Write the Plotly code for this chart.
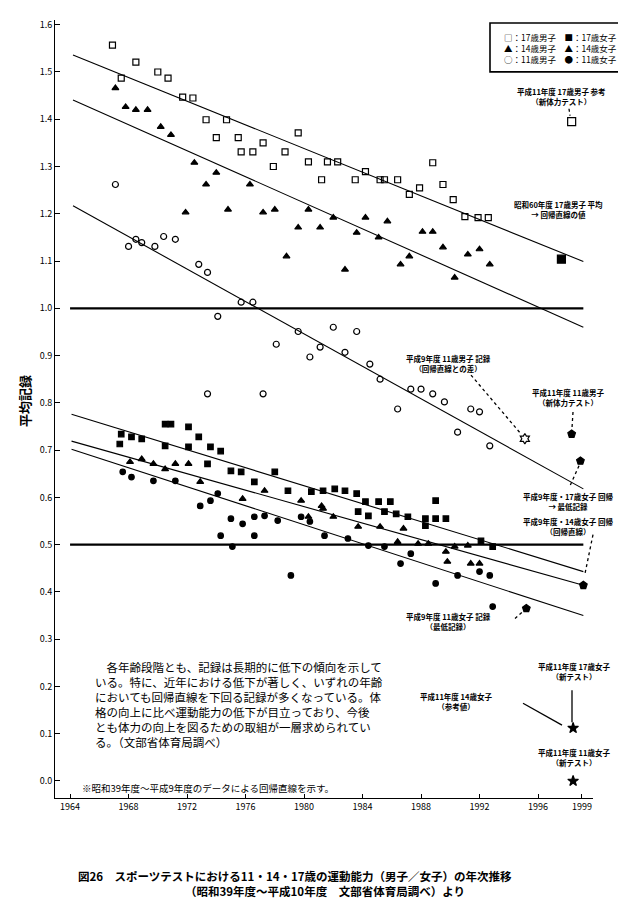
import plotly.graph_objects as go

FONT = "Noto Sans CJK JP"

# ---------------- data ----------------
x_tick_years = [1964, 1968, 1972, 1976, 1980, 1984, 1988, 1992, 1996, 1999]
x_tick_labels = ["1964", "1968", "1972", "1976", "1980", "1984", "1988", "1992", "1996", "1999"]
y_tick_vals = [0.0, 0.1, 0.2, 0.3, 0.4, 0.5, 0.6, 0.7, 0.8, 0.9, 1.0, 1.1, 1.2, 1.3, 1.4, 1.5, 1.6]
y_tick_labels = ["0.0", "0.1", "0.2", "0.3", "0.4", "0.5", "0.6", "0.7", "0.8", "0.9",
                 "1.0", "1.1", "1.2", "1.3", "1.4", "1.5", "1.6"]

# upper group, 17 years boys (open squares)
up17_years = [1966.9, 1967.5, 1968.5, 1970.0, 1970.7, 1971.7, 1972.4, 1973.3, 1974.7, 1974.0,
              1975.5, 1975.7, 1976.5, 1977.2, 1977.9, 1978.7, 1979.6, 1980.3, 1981.2, 1981.6,
              1982.3, 1983.5, 1984.2, 1985.2, 1985.5, 1986.4, 1987.2, 1987.9, 1988.8, 1989.5,
              1990.2, 1991.0, 1991.9, 1992.6]
up17_vals = [1.557, 1.487, 1.521, 1.500, 1.487, 1.447, 1.445, 1.399, 1.399, 1.361,
             1.361, 1.331, 1.331, 1.350, 1.300, 1.331, 1.371, 1.310, 1.272, 1.310,
             1.310, 1.272, 1.289, 1.272, 1.272, 1.272, 1.241, 1.255, 1.308, 1.262,
             1.230, 1.194, 1.192, 1.192]

# upper group, 14 years boys (triangles)
up14_years = [1967.1, 1967.8, 1968.5, 1969.3, 1970.2, 1970.9, 1972.5, 1974.0, 1973.3, 1976.3,
              1974.8, 1977.2, 1978.0, 1980.3, 1979.6, 1981.1, 1982.0, 1983.6, 1984.2, 1985.7,
              1985.1, 1986.6, 1987.2, 1988.1, 1988.8, 1989.5, 1991.2, 1992.0, 1992.7, 1990.3,
              1982.8, 1978.8, 1971.9]
up14_vals = [1.466, 1.426, 1.420, 1.420, 1.384, 1.367, 1.308, 1.287, 1.262, 1.262,
             1.209, 1.203, 1.209, 1.209, 1.171, 1.171, 1.192, 1.160, 1.192, 1.184,
             1.150, 1.093, 1.110, 1.162, 1.162, 1.129, 1.114, 1.125, 1.093, 1.065,
             1.082, 1.110, 1.203]

# upper group, 11 years boys (open circles)
up11_years = [1967.1, 1968.0, 1968.5, 1968.9, 1969.8, 1970.4, 1971.2, 1972.8, 1973.4, 1975.7,
              1976.5, 1974.1, 1978.1, 1979.6, 1980.4, 1982.0, 1983.6, 1981.1, 1982.8, 1984.5,
              1985.2, 1987.3, 1988.0, 1988.8, 1989.6, 1986.4, 1991.4, 1992.0, 1990.5, 1992.7,
              1973.4, 1977.2]
up11_vals = [1.262, 1.131, 1.146, 1.139, 1.131, 1.152, 1.146, 1.093, 1.076, 1.013,
             1.013, 0.983, 0.924, 0.951, 0.897, 0.960, 0.951, 0.918, 0.907, 0.882,
             0.850, 0.829, 0.829, 0.819, 0.802, 0.787, 0.787, 0.781, 0.738, 0.709,
             0.819, 0.819]

# lower group, 17 years girls (filled squares)
lo17_years = [1967.5, 1968.2, 1968.9, 1967.4, 1970.5, 1970.9, 1972.1, 1972.8, 1970.5, 1972.1,
              1973.6, 1974.3, 1973.4, 1975.0, 1975.7, 1976.6, 1978.0, 1978.9, 1980.5, 1981.3,
              1982.1, 1982.8, 1983.6, 1984.2, 1985.1, 1985.9, 1983.7, 1984.4, 1985.5, 1986.3,
              1987.1, 1988.3, 1989.0, 1989.0, 1989.7, 1988.3, 1992.1, 1992.9]
lo17_vals = [0.734, 0.728, 0.724, 0.713, 0.755, 0.755, 0.749, 0.728, 0.709, 0.707,
             0.707, 0.698, 0.671, 0.656, 0.654, 0.633, 0.654, 0.614, 0.612, 0.614,
             0.618, 0.614, 0.608, 0.591, 0.591, 0.591, 0.570, 0.561, 0.570, 0.565,
             0.559, 0.555, 0.593, 0.555, 0.555, 0.540, 0.508, 0.496]

# lower group, 14 years girls (filled triangles)
lo14_years = [1968.1, 1968.9, 1969.7, 1971.2, 1972.1, 1970.5, 1972.9, 1975.8, 1977.3, 1979.8,
              1981.3, 1981.2, 1980.3, 1982.0, 1983.7, 1985.2, 1986.8, 1986.4, 1987.8, 1988.5,
              1990.3, 1991.2, 1989.7, 1989.8, 1991.4, 1992.0]
lo14_vals = [0.675, 0.681, 0.671, 0.671, 0.671, 0.660, 0.633, 0.597, 0.614, 0.593,
             0.576, 0.582, 0.559, 0.559, 0.538, 0.538, 0.534, 0.506, 0.502, 0.502,
             0.496, 0.498, 0.485, 0.464, 0.460, 0.460]

# lower group, 11 years girls (filled circles)
lo11_years = [1967.6, 1968.2, 1969.7, 1971.2, 1974.1, 1972.9, 1973.6, 1976.6, 1977.3, 1978.2,
              1979.8, 1980.4, 1975.0, 1975.8, 1974.3, 1976.6, 1975.1, 1981.4, 1979.1, 1983.0,
              1984.4, 1985.5, 1986.6, 1987.3, 1990.5, 1992.0, 1992.7, 1989.0, 1992.9]
lo11_vals = [0.654, 0.643, 0.635, 0.635, 0.608, 0.582, 0.593, 0.559, 0.561, 0.551,
             0.559, 0.549, 0.555, 0.544, 0.519, 0.519, 0.496, 0.519, 0.435, 0.513,
             0.498, 0.496, 0.460, 0.481, 0.435, 0.443, 0.435, 0.418, 0.369]

# regression lines (start / end)
fit_years = [1964.2, 1999.1]
fit_up17_vals = [1.536, 1.099]
fit_up14_vals = [1.441, 0.960]
fit_up11_vals = [1.217, 0.618]
fit_lo_years = [1964.1, 1999.1]
fit_lo17_vals = [0.776, 0.443]
fit_lo14_vals = [0.719, 0.414]
fit_lo11_vals = [0.702, 0.350]

# reference (base) lines
base_years = [1964.0, 1999.1]
base_upper_vals = [1.0, 1.0]
base_lower_vals = [0.5, 0.5]

# individually annotated records
special_years = [1998.3, 1997.6, 1995.1, 1998.3, 1998.9, 1999.1, 1995.2, 1998.4, 1998.4]
special_vals = [1.395, 1.104, 0.724, 0.734, 0.677, 0.414, 0.365, 0.112, 0.0]
special_symbols = ["square-open", "square", "hexagram-open", "pentagon", "pentagon",
                   "pentagon", "pentagon", "star", "star"]

# ---------------- figure ----------------
L, R, T, B = 47, 41, 10, 110
W, H = 626, 900
PW, PH = W - L - R, H - T - B


def px(xp, yp):
    return (xp - L) / PW, (H - B - yp) / PH


fig = go.Figure()

line_style = dict(color="black", width=1.1)
for yrs, vals in [(fit_years, fit_up17_vals), (fit_years, fit_up14_vals), (fit_years, fit_up11_vals),
                  (fit_lo_years, fit_lo17_vals), (fit_lo_years, fit_lo14_vals), (fit_lo_years, fit_lo11_vals)]:
    fig.add_trace(go.Scatter(x=yrs, y=vals, mode="lines", line=line_style,
                             showlegend=False, hoverinfo="skip"))
for vals in [base_upper_vals, base_lower_vals]:
    fig.add_trace(go.Scatter(x=base_years, y=vals, mode="lines",
                             line=dict(color="black", width=2.2), showlegend=False, hoverinfo="skip"))

series = [
    (up17_years, up17_vals, "square-open", 6, "17歳男子"),
    (up14_years, up14_vals, "triangle-up", 6, "14歳男子"),
    (up11_years, up11_vals, "circle-open", 6, "11歳男子"),
    (lo17_years, lo17_vals, "square", 5.5, "17歳女子"),
    (lo14_years, lo14_vals, "triangle-up", 6, "14歳女子"),
    (lo11_years, lo11_vals, "circle", 5.5, "11歳女子"),
]
for yrs, vals, sym, size, name in series:
    fig.add_trace(go.Scatter(x=yrs, y=vals, mode="markers", name=name,
                             marker=dict(symbol=sym, size=size, color="black",
                                         line=dict(color="black", width=1.2)),
                             showlegend=False))

fig.add_trace(go.Scatter(x=special_years, y=special_vals, mode="markers",
                         marker=dict(symbol=special_symbols, size=8, color="black",
                                     line=dict(color="black", width=1.2)),
                         showlegend=False))

annotations = []
shapes = []

# legend box
x0, y0 = px(482, 13)
x1, y1 = px(622, 62)
shapes.append(dict(type="rect", xref="paper", yref="paper", x0=x0, y0=y1, x1=x1, y1=y0,
                   line=dict(color="black", width=1.6)))
lx, ly = px(552, 38)
annotations.append(dict(xref="paper", yref="paper", x=lx, y=ly, xanchor="center", yanchor="middle",
                        showarrow=False, align="left",
                        text="□：17歳男子　■：17歳女子<br>▲：14歳男子　▲：14歳女子<br>○：11歳男子　●：11歳女子",
                        font=dict(family=FONT, size=8.5, color="black")))

# small labels
small_labels = [
    (553, 87, "<b>平成11年度 17歳男子 参考</b><br><b>（新体力テスト）</b>"),
    (550, 200, "<b>昭和60年度 17歳男子 平均</b><br><b>→ 回帰直線の値</b>"),
    (440, 354, "<b>平成9年度 11歳男子 記録</b><br><b>（回帰直線との差）</b>"),
    (560, 388, "<b>平成11年度 11歳男子</b><br><b>（新体力テスト）</b>"),
    (560, 493, "<b>平成9年度・17歳女子 回帰</b><br><b>→ 最低記録</b>"),
    (560, 518, "<b>平成9年度・14歳女子 回帰</b><br><b>（回帰直線）</b>"),
    (440, 613, "<b>平成9年度 11歳女子 記録</b><br><b>（最低記録）</b>"),
    (566, 663, "<b>平成11年度 17歳女子</b><br><b>（新テスト）</b>"),
    (448, 693, "<b>平成11年度 14歳女子</b><br><b>（参考値）</b>"),
    (566, 749, "<b>平成11年度 11歳女子</b><br><b>（新テスト）</b>"),
]
for xp, yp, txt in small_labels:
    ax, ay = px(xp, yp)
    annotations.append(dict(xref="paper", yref="paper", x=ax, y=ay, xanchor="center", yanchor="middle",
                            showarrow=False, text=txt,
                            font=dict(family=FONT, size=7.5, color="black")))

leaders = [
    ((561, 99), (562, 106), "dot"),
    ((463, 366), (513, 425), "dot"),
    ((565, 403), (564, 419), "dot"),
    ((571, 457), (562, 477), "dot"),
    ((585, 526), (577, 565), "dot"),
    ((507, 610), (515, 603), "dot"),
    ((564, 682), (564, 714), "solid"),
    ((515, 695), (554, 717), "solid"),
]
for (xa, ya), (xb, yb), dash in leaders:
    ax0, ay0 = px(xa, ya)
    ax1, ay1 = px(xb, yb)
    shapes.append(dict(type="line", xref="paper", yref="paper", x0=ax0, y0=ay0, x1=ax1, y1=ay1,
                       line=dict(color="black", width=1.3, dash=dash)))

# paragraph
para = ("　各年齢段階とも、記録は長期的に低下の傾向を示して<br>"
        "いる。特に、近年における低下が著しく、いずれの年齢<br>"
        "においても回帰直線を下回る記録が多くなっている。体<br>"
        "格の向上に比べ運動能力の低下が目立っており、今後<br>"
        "とも体力の向上を図るための取組が一層求められてい<br>"
        "る。（文部省体育局調べ）")
pxx, pyy = px(85, 649)
annotations.append(dict(xref="paper", yref="paper", x=pxx, y=pyy, xanchor="left", yanchor="top",
                        showarrow=False, align="left", text=para,
                        font=dict(family=FONT, size=11.5, color="black")))

# footnote
fx, fy = px(72, 780)
annotations.append(dict(xref="paper", yref="paper", x=fx, y=fy, xanchor="left", yanchor="middle",
                        showarrow=False, align="left",
                        text="※昭和39年度〜平成9年度のデータによる回帰直線を示す。",
                        font=dict(family=FONT, size=9.5, color="black")))

# y title
tx, ty = px(16, 392)
annotations.append(dict(xref="paper", yref="paper", x=tx, y=ty, xanchor="center", yanchor="middle",
                        showarrow=False, textangle=-90, text="<b>平均記録</b>",
                        font=dict(family=FONT, size=13, color="black")))

# caption
c1x, c1y = px(287, 868)
annotations.append(dict(xref="paper", yref="paper", x=c1x, y=c1y, xanchor="center", yanchor="middle",
                        showarrow=False,
                        text="<b>図26　スポーツテストにおける11・14・17歳の運動能力（男子／女子）の年次推移</b>",
                        font=dict(family=FONT, size=11.5, color="black")))
c2x, c2y = px(317, 883)
annotations.append(dict(xref="paper", yref="paper", x=c2x, y=c2y, xanchor="center", yanchor="middle",
                        showarrow=False,
                        text="<b>（昭和39年度〜平成10年度　文部省体育局調べ）より</b>",
                        font=dict(family=FONT, size=11.5, color="black")))

fig.update_layout(
    width=W, height=H,
    margin=dict(l=L, r=R, t=T, b=B),
    paper_bgcolor="white", plot_bgcolor="white",
    showlegend=False,
    annotations=annotations,
    shapes=shapes,
    font=dict(family=FONT, color="black"),
)
fig.update_xaxes(range=[1962.97, 1999.76], tickvals=x_tick_years, ticktext=x_tick_labels,
                 showgrid=False, zeroline=False, showline=True, linecolor="black", linewidth=1,
                 ticks="inside", ticklen=4, tickcolor="black",
                 tickfont=dict(family=FONT, size=9, color="black"))
fig.update_yaxes(range=[-0.036, 1.610], tickvals=y_tick_vals, ticktext=y_tick_labels,
                 showgrid=False, zeroline=False, showline=True, linecolor="black", linewidth=1,
                 ticks="inside", ticklen=5, tickcolor="black",
                 tickfont=dict(family=FONT, size=9, color="black"))

fig.write_html("out.html")
